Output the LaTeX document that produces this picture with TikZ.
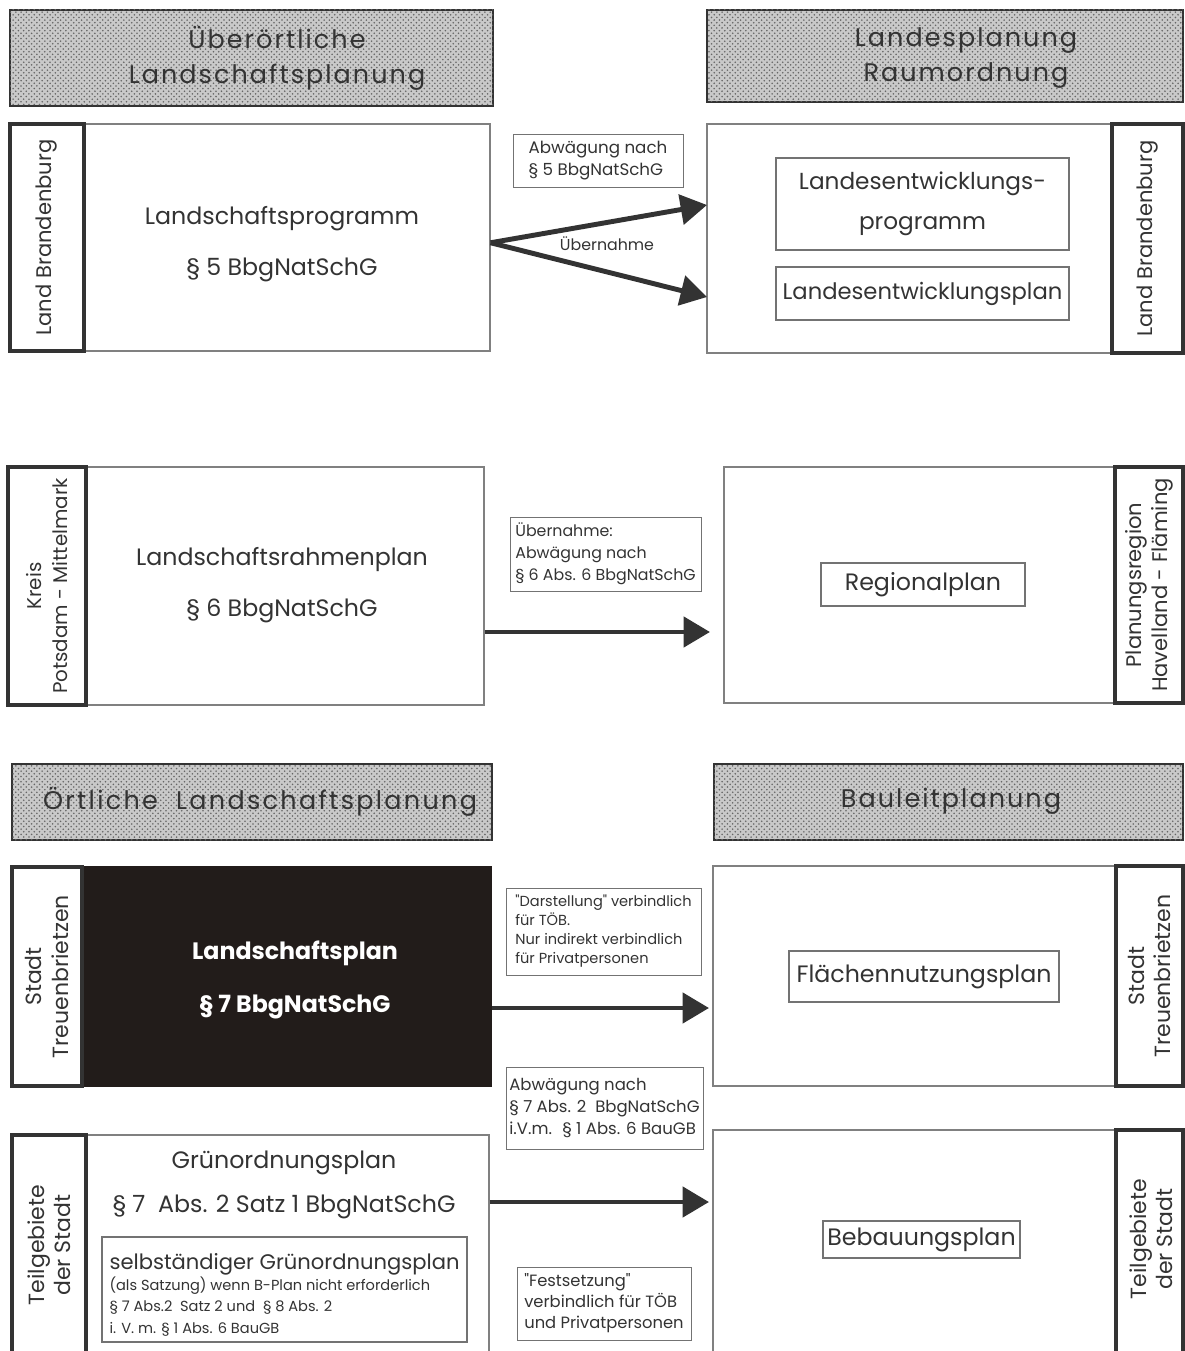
\documentclass[tikz,border=0pt]{standalone}
\usepackage{fontspec}
\setmainfont{Poppins}
\newfontfamily\gerade{Poppins}
\usetikzlibrary{arrows.meta,patterns,fit}
\definecolor{nachtgrau}{HTML}{221C1A}
\definecolor{strich}{HTML}{333333}
\tikzset{
  kopf/.style={draw=strich,line width=1.6pt,fill=gray!42,postaction={pattern=crosshatch dots,pattern color=black!60},inner sep=0pt},
  kopftext/.style={align=center,text=strich,font=\fontsize{14.5}{20}\selectfont\addfontfeatures{LetterSpace=8}},
  rahmen/.style={draw=black!50,line width=0.6pt,inner sep=0pt},
  leiste/.style={draw=strich,line width=2.4pt,fill=white,inner sep=0pt},
  senkrecht/.style={rotate=90,align=center,text=strich,font=\fontsize{12.5}{15}\selectfont},
  innen/.style={draw=black!55,line width=0.6pt,inner sep=0pt},
  gross/.style={align=center,text=strich,font=\fontsize{13.5}{29}\selectfont},
  hinweis/.style={draw=black!55,line width=0.5pt,inner sep=0pt},
  notiz/.style={align=left,text=strich,font=\fontsize{9.5}{12.5}\selectfont},
  pfeil/.style={draw=strich,line width=2.8pt,-{Triangle[length=15pt,width=17pt]}},
}
\begin{document}
\begin{tikzpicture}[x=0.02cm,y=-0.02cm]
\useasboundingbox (0,0) rectangle (1185,1351);
% Ueberoertliche Ebene
\node[kopf,fit={(10,10)(493,106)}] (kopfUe) {};
\node[kopftext] (tKopfUe) at (277,58) {Überörtliche\\Landschaftsplanung};
\node[kopf,fit={(707,10)(1183,102)}] (kopfLp) {};
\node[kopftext] (tKopfLp) at (966,58) {Landesplanung\\Raumordnung};
% Land
\node[rahmen,fit={(10,124)(490,351)}] (lprog) {};
\node[leiste,fit={(10,124)(84,351)}] (lprogL) {};
\node[senkrecht,font=\fontsize{12}{15}\selectfont] (tLprogL) at (lprogL) {Land Brandenburg};
\node[gross] (tLprog) at (282,244) {Landschaftsprogramm\\§ 5 BbgNatSchG};
\node[rahmen,fit={(707,124)(1183,353)}] (lep) {};
\node[leiste,fit={(1112,124)(1183,353)}] (lepL) {};
\node[senkrecht,font=\fontsize{12}{15}\selectfont] (tLepL) at (lepL) {Land Brandenburg};
\node[innen,fit={(776,158)(1069,250)}] (lepProg) {};
\node[gross,font=\fontsize{13.2}{22.7}\selectfont] (tLepProg) at (lepProg) {Landesentwicklungs-\\programm};
\node[innen,fit={(776,267)(1069,320)}] (lepPlan) {};
\node[gross,font=\fontsize{12.9}{16}\selectfont] (tLepPlan) at (lepPlan) {Landesentwicklungsplan};
\node[hinweis,fit={(513,134)(683,187)}] (hAbw5) {};
\node[notiz] (tAbw5) at (hAbw5) {Abwägung nach\\§ 5 BbgNatSchG};
\node[notiz,font=\fontsize{9}{12}\selectfont] (tUeb5) at (607,244) {Übernahme};
\coordinate (e1) at (707,205);
\coordinate (e2) at (707,297);
\draw[pfeil] ([yshift=-3pt]lprog.east) -- (e1);
\draw[pfeil] ([yshift=-3pt]lprog.east) -- (e2);
% Kreis / Region
\node[rahmen,fit={(8,467)(484,705)}] (lrp) {};
\node[leiste,fit={(8,467)(86,705)}] (lrpL) {};
\node[senkrecht,font=\fontsize{11.3}{15}\selectfont] (tLrpL) at (lrpL) {Kreis\\Potsdam - Mittelmark};
\node[gross] (tLrp) at (282,585) {Landschaftsrahmenplan\\§ 6 BbgNatSchG};
\node[rahmen,fit={(724,467)(1183,703)}] (rp) {};
\node[leiste,fit={(1115,467)(1183,703)}] (rpL) {};
\node[senkrecht,font=\fontsize{12}{15}\selectfont] (tRpL) at (rpL) {Planungsregion\\Havelland - Fläming};
\node[innen,fit={(821,563)(1025,606)}] (rplan) {};
\node[gross] (tRplan) at (rplan) {Regionalplan};
\node[hinweis,fit={(510,517)(701,591)}] (hUeb6) {};
\node[notiz,font=\fontsize{9}{12.5}\selectfont] (tUeb6) at (hUeb6) {Übernahme:\\Abwägung nach\\§ 6 Abs. 6 BbgNatSchG};
\coordinate (e3) at (710,632);
\draw[pfeil] (lrp.east |- e3) -- (e3);
% Oertliche Ebene
\node[kopf,fit={(12,764)(492,840)}] (kopfOe) {};
\node[kopftext,font=\fontsize{14.5}{20}\selectfont\addfontfeatures{LetterSpace=9}] (tKopfOe) at (260,802) {Örtliche \ Landschaftsplanung};
\node[kopf,fit={(714,764)(1183,840)}] (kopfBl) {};
\node[kopftext] (tKopfBl) at (951,801) {Bauleitplanung};
% Stadt
\node[rahmen,fill=nachtgrau,draw=nachtgrau,fit={(12,867)(491,1086)}] (lp) {};
\node[leiste,fit={(12,867)(82,1086)}] (lpL) {};
\node[senkrecht] (tLpL) at (lpL) {Stadt\\Treuenbrietzen};
\node[gross,text=white,font=\bfseries\fontsize{13.5}{30}\selectfont] (tLp) at (295,980) {Landschaftsplan\\§ 7 BbgNatSchG};
\node[rahmen,fit={(713,866)(1183,1086)}] (fnp) {};
\node[leiste,fit={(1116,866)(1183,1086)}] (fnpL) {};
\node[senkrecht] (tFnpL) at (fnpL) {Stadt\\Treuenbrietzen};
\node[innen,fit={(789,951)(1059,1002)}] (fnpIn) {};
\node[gross] (tFnpIn) at (fnpIn) {Flächennutzungsplan};
\node[hinweis,fit={(506,888)(701,975)}] (hDar) {};
\node[notiz,font=\gerade\fontsize{8.3}{10.8}\selectfont] (tDar) at (hDar) {"Darstellung" verbindlich\\für TÖB.\\Nur indirekt verbindlich\\für Privatpersonen};
\coordinate (e4) at (709,1008);
\draw[pfeil] (lp.east |- e4) -- (e4);
% Teilgebiete
\node[hinweis,fit={(506,1067)(703,1149)}] (hAbw7) {};
\node[notiz,font=\fontsize{9.4}{12.5}\selectfont] (tAbw7) at (hAbw7) {Abwägung nach\\§ 7 Abs. 2 \ BbgNatSchG\\i.V.m. \ § 1 Abs. 6 BauGB};
\node[rahmen,fit={(12,1135)(489,1360)}] (gop) {};
\node[leiste,fit={(12,1135)(86,1360)}] (gopL) {};
\node[senkrecht] (tGopL) at (49,1245) {Teilgebiete\\der Stadt};
\node[gross,font=\fontsize{13.5}{25}\selectfont] (tGop) at (284,1185) {Grünordnungsplan\\§ 7 \ Abs. 2 Satz 1 BbgNatSchG};
\node[innen,fit={(102,1237)(467,1342)}] (gopIn) {};
\node[notiz,font=\fontsize{8.3}{12}\selectfont] (tGopIn) at ([yshift=-3pt]gopIn.center) {{\fontsize{12}{12}\selectfont selbständiger Grünordnungsplan}\\(als Satzung) wenn B-Plan nicht erforderlich\\§ 7 Abs.2 \ Satz 2 und \ § 8 Abs. 2\\i. V. m. § 1 Abs. 6 BauGB};
\node[rahmen,fit={(713,1130)(1183,1360)}] (bp) {};
\node[leiste,fit={(1116,1130)(1183,1360)}] (bpL) {};
\node[senkrecht] (tBpL) at (1151,1239) {Teilgebiete\\der Stadt};
\node[innen,fit={(823,1221)(1020,1258)}] (bpIn) {};
\node[gross] (tBpIn) at (bpIn) {Bebauungsplan};
\node[hinweis,fit={(517,1267)(691,1340)}] (hFest) {};
\node[notiz,font=\gerade\fontsize{9.3}{12}\selectfont] (tFest) at (hFest) {"Festsetzung"\\verbindlich für TÖB\\und Privatpersonen};
\coordinate (e5) at (709,1202);
\draw[pfeil] (gop.east |- e5) -- (e5);
\end{tikzpicture}
\end{document}
